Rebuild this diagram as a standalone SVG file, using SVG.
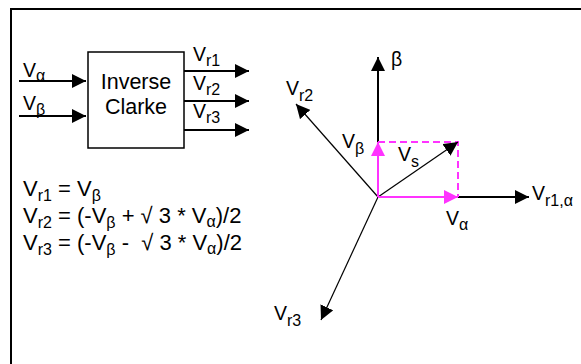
<svg xmlns="http://www.w3.org/2000/svg" width="581" height="364" viewBox="0 0 581 364">
<style>
text{font-family:"Liberation Sans",Arial,sans-serif;fill:#000;white-space:pre}
.lbl{font-size:19.5px}
.blk{font-size:21.5px}
.eq{font-size:22px}
.sub{font-size:16px}
.thick{stroke:#000;stroke-width:2;fill:none}
.thin{stroke:#000;stroke-width:1.2;fill:none}
.mag{stroke:#ff33ff;stroke-width:2;fill:none}
.dash{stroke:#ff33ff;stroke-width:2;fill:none;stroke-dasharray:7 4}
</style>
<defs>
<marker id="ah" markerUnits="userSpaceOnUse" markerWidth="14" markerHeight="14" refX="14" refY="7" orient="auto" viewBox="0 0 14 14"><path d="M0,0L14,7L0,14z" fill="#000"/></marker>
<marker id="ahm" markerUnits="userSpaceOnUse" markerWidth="14" markerHeight="14" refX="14" refY="7" orient="auto" viewBox="0 0 14 14"><path d="M0,0L14,7L0,14z" fill="#ff33ff"/></marker>
</defs>
<rect x="11" y="9" width="620" height="420" fill="none" stroke="#000" stroke-width="2"/>
<g id="block">
<rect x="88" y="52" width="96" height="96" fill="#fff" stroke="#000" stroke-width="1.5"/>
<text class="blk" x="136" y="89" text-anchor="middle">Inverse</text>
<text class="blk" x="136" y="114" text-anchor="middle">Clarke</text>
</g>
<g id="connectors">
<path class="thick" d="M19,81H86" marker-end="url(#ah)"/>
<path class="thick" d="M19,116H86" marker-end="url(#ah)"/>
<path class="thick" d="M184,71H249" marker-end="url(#ah)"/>
<path class="thick" d="M184,101H249" marker-end="url(#ah)"/>
<path class="thick" d="M184,130H249" marker-end="url(#ah)"/>
</g>
<g id="io-labels">
<text class="lbl" x="23" y="77">V<tspan class="sub" dy="4">α</tspan></text>
<text class="lbl" x="23" y="110">V<tspan class="sub" dy="5">β</tspan></text>
<text class="lbl" x="193" y="61">V<tspan class="sub" dy="5">r1</tspan></text>
<text class="lbl" x="193" y="90">V<tspan class="sub" dy="5">r2</tspan></text>
<text class="lbl" x="193" y="118">V<tspan class="sub" dy="5">r3</tspan></text>
</g>
<g id="equations">
<text class="eq" x="23" y="196">V<tspan class="sub" dy="5">r1</tspan><tspan dy="-5"> = V</tspan><tspan class="sub" dy="5">β</tspan></text>
<text class="eq" x="23" y="223">V<tspan class="sub" dy="5">r2</tspan><tspan dy="-5"> = (-V</tspan><tspan class="sub" dy="5">β</tspan><tspan dy="-5"> + √ 3 * V</tspan><tspan class="sub" dy="4">α</tspan><tspan dy="-4">)/2</tspan></text>
<text class="eq" x="23" y="250">V<tspan class="sub" dy="5">r3</tspan><tspan dy="-5"> = (-V</tspan><tspan class="sub" dy="5">β</tspan><tspan dy="-5"> -  √ 3 * V</tspan><tspan class="sub" dy="4">α</tspan><tspan dy="-4">)/2</tspan></text>
</g>
<g id="vectors">
<path class="thick" d="M378,197V57" marker-end="url(#ah)"/>
<path class="thick" d="M458,197H529" marker-end="url(#ah)"/>
<path class="thin" d="M378,197L296,104" marker-end="url(#ah)"/>
<path class="thin" d="M378,197L321,320" marker-end="url(#ah)"/>
<path class="dash" d="M378,142H458V197"/>
<path class="thin" d="M378,197L458,142" marker-end="url(#ah)"/>
<path class="mag" d="M378,197V142" marker-end="url(#ahm)"/>
<path class="mag" d="M378,197H458" marker-end="url(#ahm)"/>
</g>
<g id="vector-labels">
<text class="lbl" x="391" y="66">β</text>
<text class="lbl" x="286" y="95">V<tspan class="sub" dy="6">r2</tspan></text>
<text class="lbl" x="274" y="320">V<tspan class="sub" dy="6">r3</tspan></text>
<text class="lbl" x="532" y="200">V<tspan class="sub" dy="6">r1,α</tspan></text>
<text class="lbl" x="342" y="148">V<tspan class="sub" dy="6">β</tspan></text>
<text class="lbl" x="398" y="161">V<tspan class="sub" dy="6">s</tspan></text>
<text class="lbl" x="446" y="225">V<tspan class="sub" dy="5">α</tspan></text>
</g>
</svg>
